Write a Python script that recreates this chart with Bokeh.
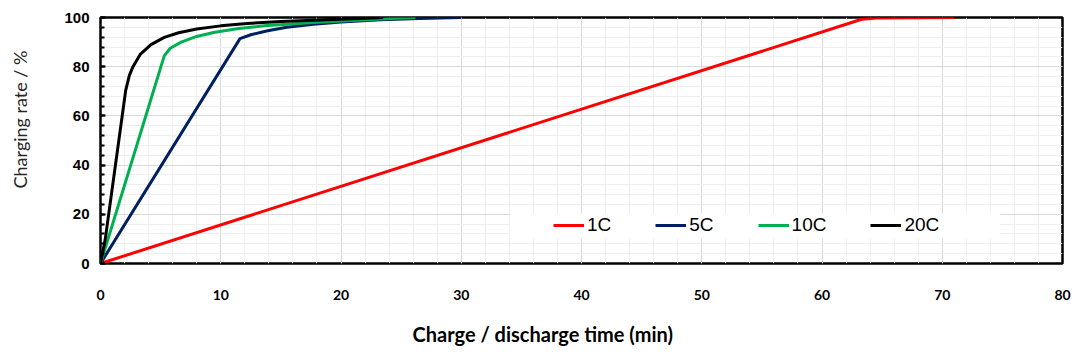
from bokeh.plotting import figure
from bokeh.layouts import row, column
from bokeh.models import SingleIntervalTicker, Range1d, Legend, LegendItem, BoxAnnotation, Title
from bokeh.embed import file_html
from bokeh.resources import INLINE

# ---- data ----
series_names = ["1C", "5C", "10C", "20C"]

x_1c = [0, 63.3, 64.5, 71.0]
y_1c = [0, 99.3, 99.8, 100.0]

x_5c = [0, 11.6, 12.5, 13.9, 15.5, 17.7, 20.0, 23.3, 26.5, 30.0]
y_5c = [0, 91.4, 93.0, 94.6, 96.0, 97.3, 98.2, 99.1, 99.6, 100.0]

x_10c = [0, 5.3, 5.8, 6.7, 8.0, 9.4, 11.5, 13.6, 17.7, 23.3, 26.2]
y_10c = [0, 84.4, 87.5, 90.0, 92.3, 93.9, 95.5, 96.6, 98.0, 99.4, 100.0]

x_20c = [0, 0.4, 2.1, 2.4, 2.7, 3.3, 4.2, 5.3, 6.5, 8.0, 10.0, 12.2, 15.0, 17.7, 20.5, 23.5]
y_20c = [0, 10.0, 70.5, 76.5, 80.0, 85.0, 89.0, 91.9, 93.8, 95.3, 96.6, 97.6, 98.4, 98.9, 99.4, 100.0]

x_ticks = [0, 10, 20, 30, 40, 50, 60, 70, 80]
y_ticks = [0, 20, 40, 60, 80, 100]

x_title = "Charge / discharge time (min)"
y_title = "Charging rate / %"

colors = ["#ff0000", "#002060", "#00b050", "#000000"]

LEFT_W = 44
BOTTOM_H = 48

p = figure(width=1087 - LEFT_W, height=355 - BOTTOM_H, output_backend="svg", toolbar_location=None,
           x_range=Range1d(0, 80), y_range=Range1d(0, 100),
           min_border_left=100 - LEFT_W, min_border_right=25, min_border_top=17,
           min_border_bottom=355 - BOTTOM_H - 263)
p.background_fill_color = "white"
p.border_fill_color = "white"
p.outline_line_color = "black"
p.outline_line_width = 2.5

p.xaxis.ticker = SingleIntervalTicker(interval=10, num_minor_ticks=5)
p.yaxis.ticker = SingleIntervalTicker(interval=20, num_minor_ticks=5)

p.xgrid.grid_line_color = "#d9d9d9"
p.ygrid.grid_line_color = "#d9d9d9"
p.xgrid.minor_grid_line_color = "#efefef"
p.ygrid.minor_grid_line_color = "#efefef"

for ax in (p.xaxis[0], p.yaxis[0]):
    ax.axis_line_color = None
    ax.major_tick_out = 0
    ax.minor_tick_out = 0
    ax.major_label_text_color = "black"
    ax.major_label_text_font_style = "bold"

p.xaxis.major_tick_in = 0
p.xaxis.minor_tick_in = 0
p.xaxis.major_label_standoff = 26
p.xaxis.major_label_text_font = "Lato"
p.xaxis.major_label_text_font_size = "14px"

p.yaxis.major_tick_in = 5
p.yaxis.minor_tick_in = 4
p.yaxis.major_tick_line_width = 2
p.yaxis.minor_tick_line_width = 2
p.yaxis.major_tick_line_color = "black"
p.yaxis.minor_tick_line_color = "black"
p.yaxis.major_label_standoff = 11
p.yaxis.major_label_text_font = "Liberation Sans"
p.yaxis.major_label_text_font_size = "15px"

# white band behind the legend
band = BoxAnnotation(left=34.1, right=74.8, bottom=10.2, top=20.3,
                     fill_color="white", fill_alpha=1.0, line_color=None)
p.add_layout(band)

renderers = []
for xs, ys, c in zip([x_1c, x_5c, x_10c, x_20c], [y_1c, y_5c, y_10c, y_20c], colors):
    r = p.line(xs, ys, line_color=c, line_width=3)
    renderers.append(r)

legend = Legend(items=[LegendItem(label=n, renderers=[r]) for n, r in zip(series_names, renderers)],
                orientation="horizontal", location=(453, 27),
                glyph_width=31, glyph_height=20, label_standoff=3, spacing=44,
                padding=3, margin=0,
                label_text_font="Liberation Sans", label_text_font_size="19px",
                label_text_color="black", label_height=20,
                background_fill_color="white", background_fill_alpha=1.0,
                border_line_color=None)
p.add_layout(legend, "center")

# ---- strip on the left carrying the y-axis title ----
left = figure(width=LEFT_W, height=355 - BOTTOM_H, output_backend="svg", toolbar_location=None,
              x_axis_location=None, y_axis_location=None,
              min_border_left=0, min_border_right=0, min_border_top=0, min_border_bottom=0)
left.grid.visible = False
left.outline_line_color = None
left.background_fill_color = "white"
left.border_fill_color = "white"
left.add_layout(Title(text=y_title, align="right", offset=33, vertical_align="bottom",
                      text_font="Lato", text_font_size="18px", text_font_style="normal",
                      text_color="#262626", standoff=12), "left")

# ---- strip at the bottom carrying the x-axis title ----
bottom = figure(width=1087, height=BOTTOM_H, output_backend="svg", toolbar_location=None,
                x_axis_location=None, y_axis_location=None,
                min_border_left=0, min_border_right=0, min_border_top=0, min_border_bottom=0)
bottom.grid.visible = False
bottom.outline_line_color = None
bottom.background_fill_color = "white"
bottom.border_fill_color = "white"
bottom.add_layout(Title(text=x_title, align="left", offset=412, vertical_align="bottom",
                        text_font="Lato", text_font_size="20px", text_font_style="bold",
                        text_color="black", standoff=19), "below")

layout = column(row(left, p, spacing=0), bottom, spacing=0)

open("out.html", "w").write(file_html(layout, INLINE))
